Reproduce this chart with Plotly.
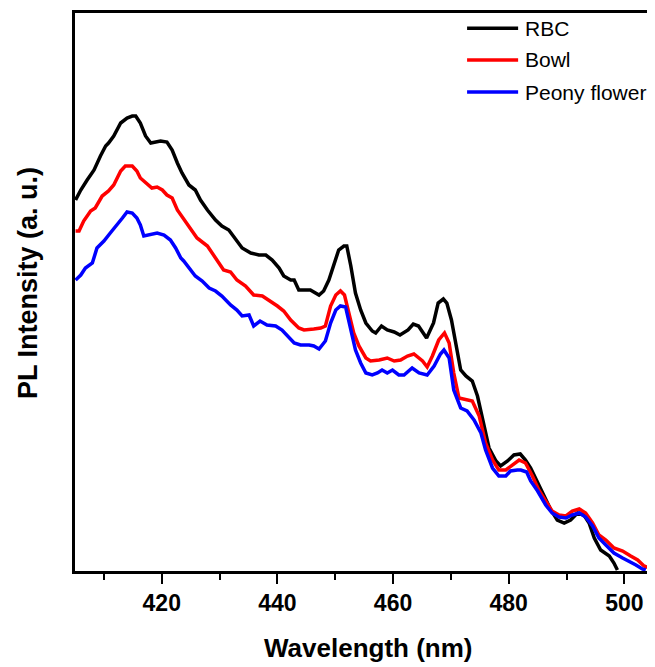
import plotly.graph_objects as go

# ---- data (wavelength in nm, PL intensity in a.u.) ----
series_names = ["RBC", "Bowl", "Peony flower"]
series_colors = ["#000000", "#ff0000", "#0000ff"]

rbc_wl = [405.1, 406.0, 407.1, 408.3, 409.4, 410.3, 410.8, 411.7, 412.9, 414.0,
          414.9, 415.5, 416.3, 417.2, 418.1, 418.9, 419.8, 420.9, 421.8, 422.7,
          423.5, 424.7, 425.8, 426.7, 427.9, 429.3, 430.4, 431.6, 432.8, 433.9,
          435.4, 436.8, 438.0, 439.1, 440.3, 441.1, 442.3, 442.9, 443.7, 444.6,
          445.7, 447.2, 448.0, 448.9, 449.8, 450.6, 451.5, 452.0, 452.7, 453.5,
          454.4, 455.3, 456.4, 457.0, 458.0, 459.0, 460.2, 461.2, 462.6, 463.5,
          464.4, 465.8, 467.0, 467.8, 468.7, 469.3, 470.1, 471.0, 471.7, 472.6,
          473.7, 474.6, 475.7, 476.6, 477.8, 478.6, 479.8, 480.9, 482.0, 482.9,
          483.8, 485.0, 486.1, 487.3, 488.4, 489.6, 490.7, 491.9, 493.0, 493.9,
          494.8, 495.9, 497.4, 498.2, 498.8]
rbc_int = [371, 381, 391, 401, 415, 425, 428, 435, 448, 453,
           455, 455, 448, 435, 428, 429, 430, 429, 421, 408,
           398, 386, 381, 371, 361, 351, 345, 341, 331, 323,
           318, 316, 316, 311, 303, 295, 291, 291, 281, 281,
           281, 276, 280, 291, 308, 321, 325, 325, 305, 278,
           261, 248, 240, 238, 245, 241, 239, 236, 241, 247,
           245, 233, 248, 268, 272, 268, 251, 221, 201, 195,
           190, 175, 148, 123, 110, 105, 110, 116, 117, 111,
           103, 88, 75, 61, 51, 48, 51, 58, 56, 48,
           33, 21, 15, 8, 1]

bowl_wl = [405.1, 405.7, 406.5, 407.7, 408.5, 409.7, 410.8, 411.7, 412.9, 413.7,
           414.9, 415.7, 416.3, 417.2, 418.3, 419.2, 420.1, 420.9, 421.8, 422.7,
           423.8, 425.0, 426.1, 427.9, 429.3, 430.7, 431.9, 433.0, 434.5, 435.9,
           437.4, 438.5, 440.0, 441.1, 442.3, 443.7, 444.6, 446.3, 447.5, 448.3,
           449.2, 450.1, 450.9, 451.6, 452.4, 453.2, 454.1, 455.3, 456.1, 457.6,
           459.0, 460.2, 461.3, 462.5, 463.6, 465.1, 465.9, 466.8, 467.9, 468.9,
           469.7, 470.5, 471.4, 472.6, 473.7, 474.9, 476.0, 477.2, 478.3, 479.5,
           480.6, 481.8, 482.9, 484.1, 485.2, 486.4, 487.5, 488.7, 489.9, 491.0,
           492.2, 493.3, 494.5, 495.6, 496.8, 498.2, 499.7, 501.1, 502.3, 503.4,
           504.6, 505.3]
bowl_int = [340, 340, 350, 360, 363, 375, 380, 386, 400, 405,
            405, 400, 393, 388, 383, 384, 381, 376, 373, 361,
            352, 341, 333, 325, 313, 301, 299, 291, 285, 276,
            275, 271, 265, 260, 251, 243, 241, 242, 243, 245,
            265, 276, 280, 276, 258, 238, 225, 213, 210, 211,
            213, 210, 211, 215, 217, 210, 204, 215, 231, 238,
            228, 198, 173, 171, 170, 155, 128, 111, 101, 101,
            106, 111, 108, 95, 81, 70, 60, 56, 55, 60,
            62, 58, 48, 36, 31, 23, 20, 15, 11, 5,
            2, 1]

peony_wl = [405.1, 406.0, 406.8, 408.0, 408.8, 410.0, 411.1, 412.0, 413.2, 414.0,
            414.9, 415.7, 416.3, 416.9, 417.8, 419.2, 420.4, 421.5, 422.4, 423.3,
            423.8, 424.7, 425.8, 427.0, 428.2, 429.3, 430.4, 431.9, 433.0, 433.9,
            435.1, 435.9, 437.0, 438.2, 439.7, 440.8, 441.7, 442.9, 444.0, 445.5,
            446.3, 447.2, 448.3, 449.2, 450.1, 450.9, 451.8, 452.7, 453.5, 454.4,
            455.3, 456.4, 457.3, 458.1, 459.0, 459.9, 461.0, 461.9, 462.8, 463.3,
            464.5, 465.9, 467.1, 468.2, 468.8, 469.7, 470.5, 471.7, 472.8, 474.0,
            475.2, 476.0, 477.2, 478.3, 479.5, 480.3, 481.5, 482.1, 483.1, 483.8,
            485.0, 486.4, 487.5, 488.7, 489.9, 491.0, 492.2, 493.3, 494.5, 495.6,
            496.8, 498.2, 499.7, 500.8, 502.0, 503.1, 503.7]
peony_int = [291, 296, 303, 308, 323, 330, 338, 345, 353, 359,
             358, 353, 346, 335, 336, 338, 336, 331, 323, 313,
             310, 303, 295, 290, 283, 280, 275, 266, 261, 255,
             256, 245, 250, 246, 245, 241, 235, 228, 226, 226,
             225, 222, 230, 248, 261, 265, 264, 241, 221, 208,
             198, 196, 198, 201, 198, 201, 196, 196, 200, 203,
             198, 196, 205, 217, 221, 213, 181, 163, 160, 151,
             138, 121, 103, 95, 95, 100, 101, 101, 99, 90,
             80, 66, 58, 54, 53, 56, 58, 54, 45, 33,
             26, 18, 13, 10, 6, 2, 1]

x_tick_vals = [420, 440, 460, 480, 500]
x_tick_text = ["420", "440", "460", "480", "500"]
x_minor_vals = [410, 430, 450, 470, 490]
x_title = "Wavelength (nm)"
y_title = "PL Intensity (a. u.)"

series = [(rbc_wl, rbc_int), (bowl_wl, bowl_int), (peony_wl, peony_int)]

# page body has an 8px margin, so the figure is sized to end at the window edge
W, H = 647, 659
M_L, M_R, M_T, M_B = 67, 0, 5, 96

FONT = "Liberation Sans, Arial, sans-serif"

fig = go.Figure()
for (wl, inten), name, color in zip(series, series_names, series_colors):
    fig.add_trace(go.Scatter(x=wl, y=inten, mode="lines", name=name,
                             line=dict(color=color, width=3.5),
                             showlegend=False))

# manual legend (long line samples like the original)
leg_y = [0.9726, 0.9158, 0.8584]
for name, color, yy in zip(series_names, series_colors, leg_y):
    fig.add_shape(type="line", xref="paper", yref="paper",
                  x0=0.676, x1=0.764, y0=yy, y1=yy,
                  line=dict(color=color, width=3.5))
    fig.add_annotation(xref="paper", yref="paper", x=0.772, y=yy,
                       xanchor="left", yanchor="middle", showarrow=False,
                       text=name, font=dict(family=FONT, size=21, color="black"))

# axis titles
fig.add_annotation(xref="paper", yref="paper", x=-0.081, y=0.516,
                   text="<b>%s</b>" % y_title, textangle=-90, showarrow=False,
                   xanchor="center", yanchor="middle",
                   font=dict(family=FONT, size=27, color="black"))
fig.add_annotation(xref="paper", yref="paper", x=0.505, y=-0.138,
                   text="<b>%s</b>" % x_title, showarrow=False,
                   xanchor="center", yanchor="middle",
                   font=dict(family=FONT, size=26, color="black"))

fig.update_layout(
    width=W, height=H,
    margin=dict(l=M_L, r=M_R, t=M_T, b=M_B),
    paper_bgcolor="white", plot_bgcolor="white",
    xaxis=dict(range=[405.0, 505.3], tickmode="array",
               tickvals=x_tick_vals, ticktext=["<b>%s</b>" % t for t in x_tick_text],
               ticks="outside", ticklen=10, tickwidth=2, tickcolor="black",
               showline=True, linecolor="black", linewidth=2.5, mirror=True,
               showgrid=False, zeroline=False,
               tickfont=dict(family=FONT, size=23, color="black"),
               minor=dict(tickvals=x_minor_vals, ticks="outside",
                          ticklen=6, tickwidth=2, tickcolor="black", showgrid=False)),
    yaxis=dict(range=[0, 558], showticklabels=False, ticks="",
               showline=True, linecolor="black", linewidth=2.5, mirror=False,
               showgrid=False, zeroline=False),
)

fig.write_html("out.html")
